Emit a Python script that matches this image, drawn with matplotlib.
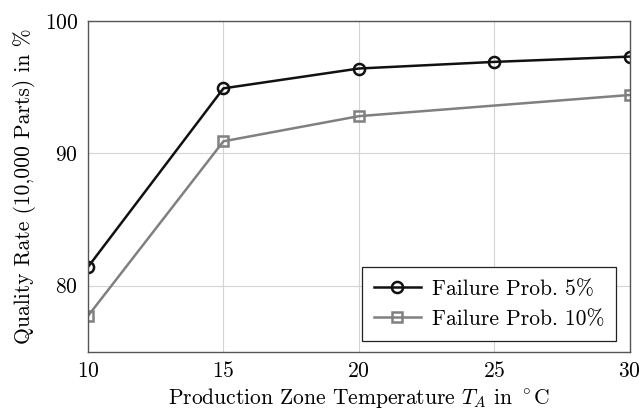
import matplotlib
matplotlib.use("Agg")
import matplotlib.pyplot as plt

plt.rcParams.update({
    "font.family": "serif",
    "font.serif": ["cmr10", "DejaVu Serif"],
    "mathtext.fontset": "cm",
    "axes.formatter.use_mathtext": True,
    "font.size": 15.5,
})

temps_5 = [10, 15, 20, 25, 30]
rate_5 = [81.4, 94.9, 96.4, 96.9, 97.3]
temps_10 = [10, 15, 20, 30]
rate_10 = [77.7, 90.9, 92.8, 94.4]

BLACK = "#111111"
GRAY = "#808080"

fig = plt.figure(figsize=(6.42, 4.09), dpi=100)
ax = fig.add_axes([0.137, 0.140, 0.844, 0.809])

ax.plot(temps_5, rate_5, color=BLACK, linewidth=1.8, marker="o",
        markersize=8, markerfacecolor="none", markeredgewidth=1.8,
        label="Failure Prob. 5%")
ax.plot(temps_10, rate_10, color=GRAY, linewidth=1.8, marker="s",
        markersize=7.5, markerfacecolor="none", markeredgewidth=1.8,
        label="Failure Prob. 10%")

ax.set_xlim(10, 30)
ax.set_ylim(75, 100)
ax.set_xticks([10, 15, 20, 25, 30])
ax.set_yticks([80, 90, 100])
ax.grid(True, color="#d4d4d4", linewidth=0.8)
ax.set_axisbelow(True)
ax.tick_params(length=0, pad=7)
for s in ax.spines.values():
    s.set_color("#555555")
    s.set_linewidth(1.0)

ax.set_xlabel(r"Production Zone Temperature $T_A$ in $^\circ$C", labelpad=3)
ax.set_ylabel("Quality Rate (10,000 Parts) in %", labelpad=6)

leg = ax.legend(loc="lower right", fancybox=False, edgecolor="#222222",
                framealpha=1, borderpad=0.55, handlelength=2.2,
                handletextpad=0.5, labelspacing=0.5, borderaxespad=0,
                bbox_to_anchor=(0.975, 0.033))
leg.get_frame().set_linewidth(0.9)

fig.savefig("out.png", dpi=100)
